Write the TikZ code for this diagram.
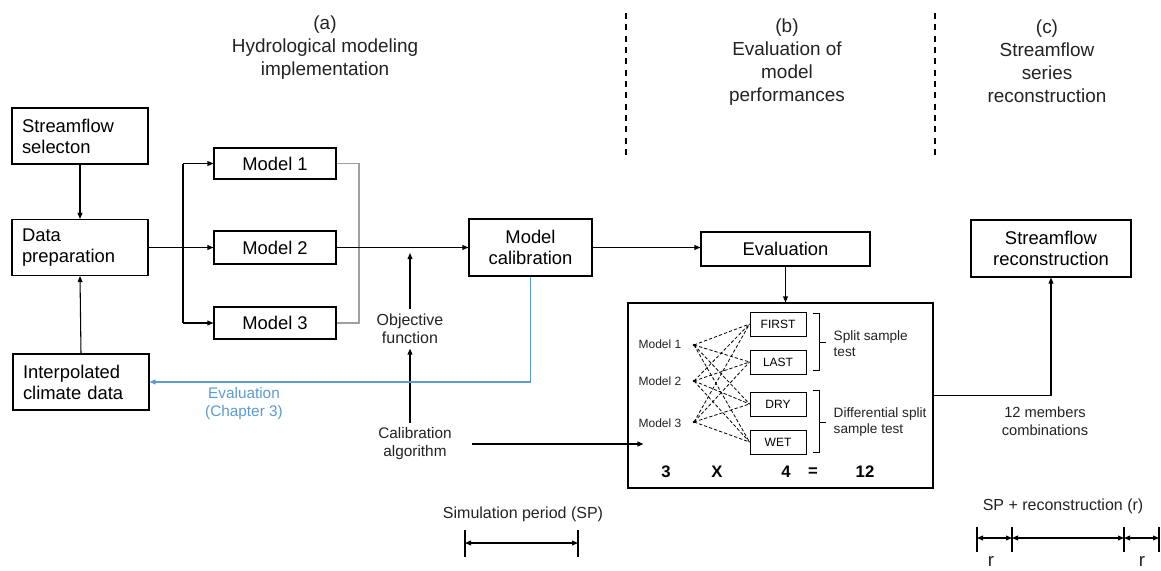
\documentclass[tikz,border=0pt]{standalone}
\usepackage{fontspec}
\setmainfont{Liberation Sans}
\usetikzlibrary{arrows.meta,calc}
\newcommand\boxfont{\fontsize{13.8}{15.75}\selectfont}
\newcommand\headfont{\fontsize{14.2}{17.2}\selectfont}
\newcommand\objfont{\fontsize{12}{13.5}\selectfont}
\newcommand\calfont{\fontsize{11.5}{13.5}\selectfont}
\newcommand\tinyfont{\fontsize{9}{11}\selectfont}
\newcommand\splitfont{\fontsize{10.2}{12}\selectfont}
\definecolor{evblue}{HTML}{5B9BD5}
\definecolor{lgray}{HTML}{A0A0A0}
\definecolor{txt}{HTML}{222222}
\tikzset{
  lbox/.style={draw, line width=0.8pt, font=\boxfont, align=left, text width=87pt, inner xsep=7.5pt, inner ysep=0pt, minimum height=42pt},
  cbox/.style={draw, line width=0.8pt, font=\boxfont, align=center, inner sep=0pt},
  sbox/.style={draw, line width=0.7pt, font=\tinyfont, inner sep=0pt, minimum width=42pt, minimum height=18pt},
  conn/.style={line width=0.8pt, ->},
  dimline/.style={line width=0.8pt, <->},
  bar/.style={line width=0.8pt},
  dashl/.style={line width=0.6pt, dash pattern=on 2.5pt off 1.5pt},
  divider/.style={line width=1.1pt, dash pattern=on 4.5pt off 4pt},
  head/.style={font=\headfont, align=center, text=txt},
}
\begin{document}
\begin{tikzpicture}[x=0.75pt,y=-0.75pt, >={Triangle[length=4.5pt,width=3.6pt]}]
\useasboundingbox (0,0) rectangle (1161,571);

% headers
\node[head] (ha) at (325,47.5) {(a)\\Hydrological modeling\\implementation};
\node[head] (hb) at (787,62) {(b)\\Evaluation of\\model\\performances};
\node[head] (hc) at (1047,61) {(c)\\Streamflow\\series\\reconstruction};
\coordinate (d1t) at (626,13); \coordinate (d1b) at (626,157);
\coordinate (d2t) at (935,13); \coordinate (d2b) at (935,157);
\draw[divider] (d1t) -- (d1b);
\draw[divider] (d2t) -- (d2b);

% left column
\node[lbox] (ss) at (80,136) {Streamflow\\selecton};
\node[lbox] (dp) at (80,247.5) {Data\\preparation};
\node[lbox] (ic) at (81,382) {Interpolated\\climate data};
\draw[conn] (ss.south) -- (dp.north);
\draw[conn] (ic.north) -- (dp.south);

% models
\node[cbox, minimum width=91.5pt, minimum height=23.25pt] (m1) at (275,163.5) {Model 1};
\node[cbox, minimum width=91.5pt, minimum height=24.75pt] (m2) at (275,247.5) {Model 2};
\node[cbox, minimum width=91.5pt, minimum height=24pt] (m3) at (275,323) {Model 3};
\coordinate (br) at (183,247.5);
\draw[conn] (dp.east) -- (m2.west);
\draw[line width=0.8pt] (br |- m1.west) -- (br |- m3.west);
\draw[conn] (br |- m1.west) -- (m1.west);
\draw[conn] (br |- m3.west) -- (m3.west);
\coordinate (gx) at (359,247.5);
\draw[lgray, line width=0.8pt] (m1.east) -- (m1.east -| gx) -- (m3.east -| gx) -- (m3.east);

% calibration
\node[cbox, minimum width=92.25pt, minimum height=42.75pt] (mc) at (530.5,247.5) {Model\\calibration};
\draw[conn] (m2.east) -- (mc.west);
\node[font=\objfont, align=center, text=txt] (obj) at (410,329) {Objective\\function};
\node[font=\calfont, align=center, text=txt] (cal) at (415,444) {Calibration\\algorithm};
\coordinate (objtip) at (410,253);
\draw[conn] (obj.north) -- (objtip);
\draw[conn] ([xshift=-3.75pt]cal.north) -- (obj.south);
\draw[evblue, line width=0.8pt, ->] (mc.south) |- (ic.east);
\node[font=\calfont, align=center, text=evblue] (evt) at (244,404) {Evaluation\\(Chapter 3)};

% evaluation
\node[cbox, minimum width=126.75pt, minimum height=25.5pt] (ev) at (785.5,249) {Evaluation};
\draw[conn] (mc.east) -- (mc.east -| ev.west);
\node[draw, line width=0.8pt, minimum width=228.75pt, minimum height=138.75pt, inner sep=0pt] (bb) at (780.5,395.5) {};
\draw[conn] (ev.south) -- (ev.south |- bb.north);
\draw[conn] ([xshift=12pt]cal.east) -- ([xshift=12pt]cal.east -| bb.west);

% inside big box
\node[sbox] (first) at (778,324) {FIRST};
\node[sbox] (last) at (778,362) {LAST};
\node[sbox] (dry) at (778,404) {DRY};
\node[sbox] (wet) at (778,442) {WET};
\coordinate (p1) at (694,345);
\coordinate (p2) at (694,381);
\coordinate (p3) at (694,422);
\node[font=\tinyfont, anchor=east, text=txt] (ml1) at (686,344) {Model 1};
\node[font=\tinyfont, anchor=east, text=txt] (ml2) at (686,381) {Model 2};
\node[font=\tinyfont, anchor=east, text=txt] (ml3) at (686,423) {Model 3};
\foreach \m in {p1,p2,p3}{
  \foreach \b in {first,last,dry,wet}{
    \draw[dashl] (\m) -- (\b.west);
  }
  \fill (\m) circle (1.3);
}
\draw[line width=0.7pt] (813,313) -- (819,313) -- (819,370) -- (813,370);
\draw[line width=0.7pt] (819,342) -- (826,342);
\draw[line width=0.7pt] (813,390) -- (819,390) -- (819,452) -- (813,452);
\draw[line width=0.7pt] (819,422) -- (826,422);
\node[font=\splitfont, anchor=west, align=left, text=txt] (sst) at (829,344) {Split sample\\test};
\node[font=\splitfont, anchor=west, align=left, text=txt] (dst) at (829,422) {Differential split\\sample test};
\node[font=\fontsize{12.5}{14}\selectfont\bfseries] (n3) at (666,472) {3};
\node[font=\fontsize{12.5}{14}\selectfont\bfseries] (nx) at (717,472) {X};
\node[font=\fontsize{12.5}{14}\selectfont\bfseries] (n4) at (786,472) {4};
\node[font=\fontsize{12.5}{14}\selectfont\bfseries] (neq) at (813,472) {=};
\node[font=\fontsize{12.5}{14}\selectfont\bfseries] (n12) at (865,472) {12};

% reconstruction
\node[cbox, minimum width=120pt, minimum height=42.75pt] (sr) at (1051,248.5) {Streamflow\\reconstruction};
\draw[conn] (bb.east) -| (sr.south);
\node[font=\fontsize{11}{13.5}\selectfont, align=center, text=txt] (mem) at (1045,421) {12 members\\combinations};

% bottom dimension lines
\node[font=\fontsize{12}{14}\selectfont, text=txt] (spt) at (523,514) {Simulation period (SP)};
\coordinate (s1t) at (465,530); \coordinate (s1b) at (465,557);
\coordinate (s2t) at (578,530); \coordinate (s2b) at (578,557);
\draw[bar] (s1t) -- (s1b);
\draw[bar] (s2t) -- (s2b);
\draw[dimline] (465,543) -- (578,543);

\node[font=\fontsize{12}{14}\selectfont, text=txt] (rpt) at (1063,506) {SP + reconstruction (r)};
\foreach \xx in {977,1012,1124,1159}{
  \draw[bar] (\xx,527) -- (\xx,552);
}
\draw[dimline] (977,538) -- (1012,538);
\draw[dimline] (1012,538) -- (1124,538);
\draw[dimline] (1124,538) -- (1159,538);
\node[font=\fontsize{14}{16}\selectfont, text=txt] (r1) at (991,561) {r};
\node[font=\fontsize{14}{16}\selectfont, text=txt] (r2) at (1142,561) {r};
\end{tikzpicture}
\end{document}
